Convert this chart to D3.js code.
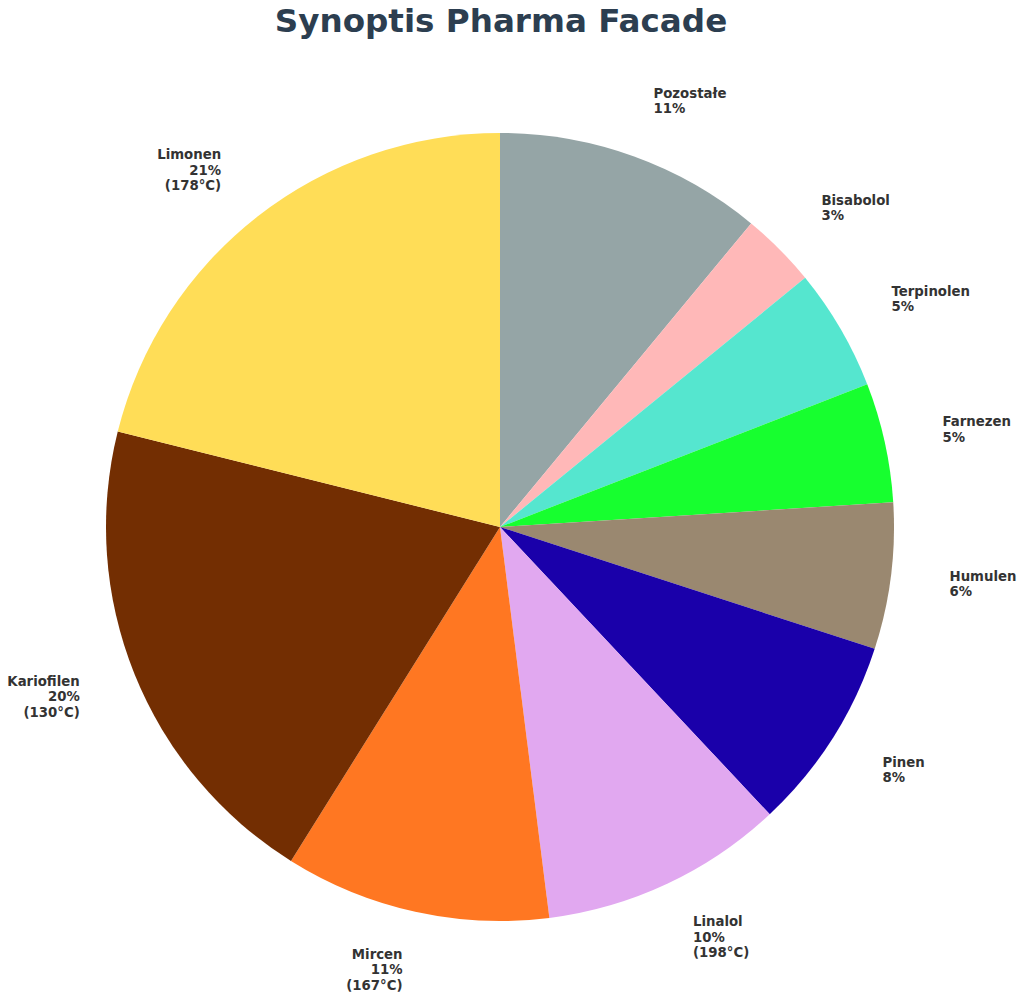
<!DOCTYPE html>
<html>
<head>
<meta charset="utf-8">
<script src="https://cdn.jsdelivr.net/npm/d3@7"></script>
<style>
  body { margin: 0; background: #fff; }
  text { font-family: "DejaVu Sans", sans-serif; }
</style>
</head>
<body>
<svg id="chart" width="1024" height="1000"></svg>
<script>
// terpene shares (percent), clockwise from 12 o'clock
var names = ["Pozostałe", "Bisabolol", "Terpinolen", "Farnezen", "Humulen", "Pinen", "Linalol", "Mircen", "Kariofilen", "Limonen"];
var shares = [11, 3.1, 5, 4.9, 6, 8, 10, 10.9, 20, 21.1];
var boiling = [null, null, null, null, null, null, "198°C", "167°C", "130°C", "178°C"];
var colors = ["#95a5a6", "#ffb8b8", "#55e6cf", "#17ff2f", "#9a8870", "#1a00aa", "#e1a8f0", "#ff7722", "#732e02", "#ffdd57"];

var data = names.map(function(n, i){
    return { name: n, value: shares[i], bp: boiling[i], color: colors[i] };
});

var svg = d3.select("#chart");
var cx = 500, cy = 527, r = 394;

svg.append("text")
    .attr("x", 501)
    .attr("y", 32)
    .attr("text-anchor", "middle")
    .attr("font-size", 32.6)
    .attr("font-weight", "bold")
    .attr("fill", "#2c3e50")
    .text("Synoptis Pharma Facade");

var pie = d3.pie().sort(null).value(function(d){ return d.value; });
var arc = d3.arc().innerRadius(0).outerRadius(r);
var arcs = pie(data);

var g = svg.append("g").attr("transform", "translate(" + cx + "," + cy + ")");

g.selectAll("path.slice")
    .data(arcs)
    .enter()
    .append("path")
    .attr("class", "slice")
    .attr("d", arc)
    .attr("fill", function(d){ return d.data.color; });

// labels sit at 1.15 r, left/right aligned by side
var labelR = r * 1.15;
var lineH = 15.5;

var labels = g.selectAll("text.lbl")
    .data(arcs)
    .enter()
    .append("text")
    .attr("class", "lbl")
    .attr("font-size", 13.3)
    .attr("font-weight", "bold")
    .attr("fill", "#333333")
    .attr("text-anchor", function(d){
        var a = (d.startAngle + d.endAngle) / 2;
        return Math.sin(a) >= 0 ? "start" : "end";
    });

labels.each(function(d){
    var a = (d.startAngle + d.endAngle) / 2;
    var x = labelR * Math.sin(a);
    var y = -labelR * Math.cos(a);
    var lines = [d.data.name, Math.round(d.data.value) + "%"];
    if (d.data.bp) lines.push("(" + d.data.bp + ")");
    var top = y - (lines.length - 1) * lineH / 2;
    var t = d3.select(this);
    lines.forEach(function(s, i){
        t.append("tspan")
            .attr("x", x)
            .attr("y", top + i * lineH)
            .attr("dy", "0.35em")
            .text(s);
    });
});
</script>
</body>
</html>
